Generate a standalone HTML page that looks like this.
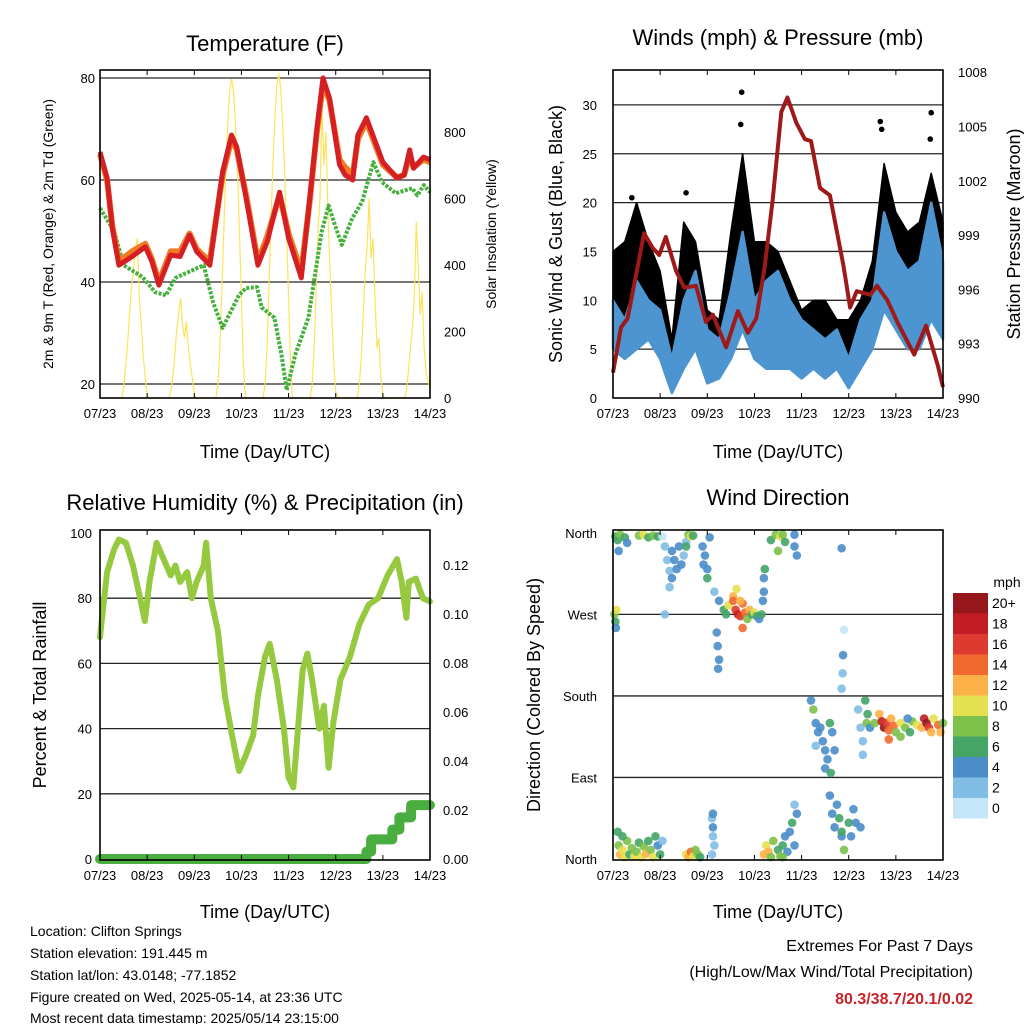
<!DOCTYPE html>
<html><head><meta charset="utf-8"><style>
html,body{margin:0;padding:0;background:#fff;}
svg{display:block;font-family:"Liberation Sans",sans-serif;}
</style></head><body>
<svg id="c" width="1024" height="1024" viewBox="0 0 1024 1024" xmlns="http://www.w3.org/2000/svg">
<rect width="1024" height="1024" fill="#fff"/>
<g id="marks"></g>
<g font-size="22" text-anchor="middle" fill="#000">
<text x="265" y="51">Temperature (F)</text>
<text x="778" y="45">Winds (mph) &amp; Pressure (mb)</text>
<text x="265" y="510">Relative Humidity (%) &amp; Precipitation (in)</text>
<text x="778" y="505">Wind Direction</text>
</g>
<g font-size="18" text-anchor="middle">
<text x="265" y="458">Time (Day/UTC)</text>
<text x="778" y="458">Time (Day/UTC)</text>
<text x="265" y="918">Time (Day/UTC)</text>
<text x="778" y="918">Time (Day/UTC)</text>
<text transform="translate(562,234) rotate(-90)">Sonic Wind &amp; Gust (Blue, Black)</text>
<text transform="translate(1020,234) rotate(-90)">Station Pressure (Maroon)</text>
<text transform="translate(46,695) rotate(-90)">Percent &amp; Total Rainfall</text>
<text transform="translate(540,695) rotate(-90)">Direction (Colored By Speed)</text>
</g>
<g font-size="14" text-anchor="middle">
<text transform="translate(53,234) rotate(-90)">2m &amp; 9m T (Red, Orange) &amp; 2m Td (Green)</text>
<text transform="translate(496,234) rotate(-90)">Solar Insolation (Yellow)</text>
</g>
<g font-size="14" fill="#000">
<text x="30" y="936">Location: Clifton Springs</text>
<text x="30" y="958">Station elevation: 191.445 m</text>
<text x="30" y="980">Station lat/lon: 43.0148; -77.1852</text>
<text x="30" y="1002">Figure created on Wed, 2025-05-14, at 23:36 UTC</text>
<text x="30" y="1023">Most recent data timestamp: 2025/05/14 23:15:00</text>
</g>
<g font-size="16" text-anchor="end">
<text x="973" y="951">Extremes For Past 7 Days</text>
<text x="973" y="977">(High/Low/Max Wind/Total Precipitation)</text>
<text x="973" y="1004" font-weight="bold" fill="#c8242a">80.3/38.7/20.1/0.02</text>
</g>
<text x="1007" y="587" font-size="14" text-anchor="middle">mph</text>
</svg>
<script>
// ---------- data ----------
const dayLabels = ["07/23","08/23","09/23","10/23","11/23","12/23","13/23","14/23"];
const tempT = [0,0.15,0.26,0.4,0.68,0.96,1.1,1.25,1.5,1.7,1.9,2.05,2.33,2.6,2.79,2.9,3.1,3.35,3.55,3.81,4.0,4.27,4.45,4.6,4.73,4.87,5.08,5.2,5.36,5.47,5.65,6.0,6.3,6.45,6.57,6.65,6.86,7.0];
const tempRed = [65.5,60.4,50.6,43.3,45,46.9,44,39.4,45.3,45,49.2,46,43.3,61.6,68.8,66.5,56.5,43.3,48,57.6,48.6,40.8,56.5,70,80,76,63,61,60,68.8,72.2,63.5,60.4,61,65.9,62.3,64.5,64];
const tempOrange = [65,60,51,44,46,47.5,44.5,40,46,46,49.5,46.5,44,61,68,66,57,44,49,57,49.5,42,56,69.5,79,75.5,64,62.5,61,68,71.5,63,60.5,61,65,62.5,64,63.5];
const dewT = [0,0.3,0.5,0.9,1.17,1.4,1.6,2.0,2.2,2.4,2.6,2.95,3.1,3.33,3.43,3.7,3.85,3.96,4.14,4.42,4.7,4.85,4.99,5.13,5.35,5.56,5.8,5.98,6.27,6.62,6.73,6.87,7.0];
const dewVals = [54.5,50,43.3,41,38,37.4,40.8,42.5,43.3,36,31,37.5,38.8,39,35,33,25.7,18.8,25.7,33,49.8,55,51,47.3,52.5,55.7,63.5,59.6,57.4,58.4,57,59,57.6];
const solarHourly = [
0,0,0,0,0,0,0,0,0,0,0,0,30,90,160,250,330,380,450,480,300,220,130,60,
10,0,0,0,0,0,0,0,0,0,0,0,20,60,120,200,250,300,220,180,230,150,100,60,
10,0,0,0,0,0,0,0,0,0,0,0,40,150,320,500,680,820,920,960,920,820,680,500,
300,100,0,0,0,0,0,0,0,0,0,0,40,150,330,520,700,840,940,975,930,820,680,500,
300,100,0,0,0,0,0,0,0,0,0,0,40,150,320,500,600,880,700,800,560,400,250,100,
20,0,0,0,0,0,0,0,0,0,0,0,40,120,250,380,450,600,420,480,300,150,180,60,
10,0,0,0,0,0,0,0,0,0,0,0,20,80,150,200,300,530,400,250,320,150,80,50,30];
const presT = [0,0.17,0.31,0.66,0.84,0.98,1.12,1.34,1.51,1.76,1.97,2.12,2.4,2.65,2.86,3.04,3.22,3.39,3.57,3.7,3.89,4.07,4.2,4.39,4.6,4.89,5.03,5.17,5.46,5.6,5.82,6.03,6.39,6.64,6.89,7.0];
const presVals = [991.4,993.9,994.4,999.1,998.3,997.9,998.9,997,996.1,996.2,994.2,994.6,992.8,994.8,993.6,994.4,997.3,1001,1005.8,1006.6,1005.2,1004.3,1004.2,1001.6,1001.2,997.3,995,995.9,995.7,996.2,995.4,994.2,992.4,994,991.8,990.6];
const windT = [0,0.25,0.5,0.75,1,1.25,1.5,1.75,2,2.25,2.5,2.75,3,3.25,3.5,3.75,4,4.25,4.5,4.75,5,5.25,5.5,5.75,6,6.25,6.5,6.75,7];
const windHi = [10,8,12,10,9,4,10,13,7,6,11,17,10,12,13,10,8,7,6,7,4,8,10,19,15,13,14,20,14];
const windLo = [5,4,5,6,4,0.5,3,5,1.5,2,4,7,4,3,3,3,2,3,2,3,1,3,5,9,7,5,5,8,6];
const gustHi = [15,16,20,16,13,6,18,16,9,8,17,25,16,16,15,12,9,10,10,8,8,10,14,24,19,17,18,23,18];
const peakGustT = [2.73,2.71,1.55,6.75,6.73,5.67,5.7,0.4];
const peakGustV = [31.3,28,21,29.2,26.5,28.3,27.5,20.5];
const rhT = [0,0.05,0.15,0.3,0.4,0.55,0.7,0.85,0.95,1.05,1.2,1.35,1.5,1.6,1.7,1.85,1.95,2.05,2.2,2.25,2.35,2.5,2.65,2.8,2.95,3.1,3.25,3.35,3.5,3.6,3.75,3.9,4.0,4.1,4.2,4.3,4.4,4.5,4.65,4.75,4.85,4.95,5.1,5.3,5.5,5.7,5.9,6.1,6.3,6.4,6.5,6.55,6.7,6.85,7.0];
const rhVals = [68,75,88,95,98,97,90,80,73,85,97,92,87,90,85,88,80,85,90,97,80,70,50,38,27,32,38,50,62,66,55,40,25,22,40,58,63,55,40,47,28,42,55,62,72,78,80,87,92,85,74,85,86,80,79];
const precT = [0,5.6,5.65,5.75,6.2,6.35,6.6,7.0];
const precVals = [0,0,0.003,0.008,0.012,0.017,0.022,0.022];
const dirT = [0.05,0.1,0.15,0.25,0.3,0.55,0.65,0.75,0.85,0.95,0.12,0.03,0.05,0.07,0.06,
1.05,1.1,1.15,1.2,1.2,1.25,1.3,1.35,1.4,1.45,1.5,1.55,1.1,1.25,1.6,1.65,1.7,1.55,
1.9,1.95,2.0,2.05,2.0,1.92,2.2,2.22,2.25,2.23,2.25,2.15,
2.35,2.45,2.55,2.6,2.65,2.7,2.75,2.8,2.85,2.9,2.95,3.0,2.62,2.55,2.7,3.05,2.75,3.1,3.15,2.4,
3.2,3.2,3.22,3.18,3.35,3.45,3.55,3.6,3.5,3.65,3.85,3.85,3.9,
4.85,4.9,4.88,4.87,4.85,
4.2,4.25,4.3,4.35,4.3,4.4,4.45,4.5,4.55,4.6,4.65,4.5,4.62,4.7,
4.6,4.65,4.7,4.75,4.8,4.85,4.9,4.85,5.0,5.05,5.1,5.15,5.25,
5.2,5.25,5.3,5.3,5.35,5.4,5.38,5.45,
5.55,5.65,5.7,5.75,5.8,5.85,5.9,5.95,6.0,6.1,6.2,6.3,6.35,6.45,6.55,6.6,6.65,6.7,6.75,6.8,6.9,6.95,7.0,6.25,5.85,6.1,
0.1,0.12,0.15,0.2,0.25,0.3,0.35,0.4,0.45,0.5,0.55,0.6,0.65,0.7,0.75,0.8,0.85,0.9,0.95,1.0,1.05,0.2,
1.55,1.6,1.65,1.7,1.75,1.8,1.85,
2.1,2.12,2.12,2.15,2.1,2.12,
3.2,3.25,3.3,3.35,3.4,3.5,3.55,3.6,3.65,3.7,3.75,3.8,3.85,3.9,3.85,3.6];
const dirDeg = [356,352,358,355,349,357,358,355,357,356,340,270,262,275,255,
356,345,330,318,300,340,330,320,345,325,335,350,270,310,358,356,357,345,
345,335,320,355,310,325,250,235,220,210,285,295,
275,280,290,275,270,268,282,272,265,275,270,272,298,285,285,268,255,265,270,270,
310,295,320,285,352,358,356,358,340,350,358,345,335,
343,253,225,205,188,
175,165,150,140,125,145,130,120,110,150,140,100,95,120,
70,50,35,60,45,25,10,30,40,25,55,40,35,
165,145,130,115,175,160,150,145,
150,160,152,145,150,142,155,147,140,150,145,140,152,148,145,155,150,145,140,155,148,140,150,155,132,135,
30,15,5,10,2,20,5,12,3,8,18,2,14,6,20,10,2,25,15,5,20,25,
5,2,8,3,10,5,2,
45,35,25,15,5,50,
5,15,8,2,20,10,3,15,25,8,30,40,15,50,60,2];
const dirSpd = [6,7,8,6,4,8,10,7,9,6,4,8,6,10,4,
1,2,2,2,2,4,4,4,4,4,3,3,2,4,8,10,6,6,
4,4,4,4,6,4,4,4,4,4,4,2,
6,10,12,16,18,16,14,14,8,12,6,10,10,14,12,6,14,4,6,6,
4,4,6,4,6,8,10,8,8,6,4,4,4,
4,1,4,2,3,
4,8,4,4,2,4,4,4,4,6,4,4,6,4,
4,4,4,4,6,4,8,6,6,4,4,4,4,
2,2,2,2,6,6,8,4,
8,12,18,20,16,14,12,14,8,10,8,6,8,10,12,18,20,16,12,10,14,12,8,4,14,8,
6,8,12,10,10,8,6,8,10,8,6,10,8,12,6,8,10,6,4,6,2,6,
10,12,14,10,8,8,6,
2,4,2,2,2,4,
12,10,12,8,8,6,8,6,4,4,4,6,4,4,2,8];
const cbLabels = ["0","2","4","6","8","10","12","14","16","18","20+"];
const cbColors = ["#c4e6f8","#82bde6","#4a8dc9","#44a567","#7cc14a","#e5e04f","#fbb148","#f2692f","#de3b30","#c21d25","#95171c"];

// ---------- helpers ----------
const NS = "http://www.w3.org/2000/svg";
const root = document.getElementById("marks");
function mk(tag, attrs, parent) {
  const el = document.createElementNS(NS, tag);
  for (const k in attrs) el.setAttribute(k, attrs[k]);
  (parent || root).appendChild(el);
  return el;
}
const DAY = 330 / 7;
function xAt(x0) { return t => x0 + t * DAY; }
const x1 = xAt(100), x2 = xAt(613);
const yTemp = v => 384 - (v - 20) * 5.1;
const ySol = v => 398 - v * 0.3325;
const yWind = v => 398 - v * 9.77;
const yPres = p => 398 - (p - 990) * 18.1;
const yRH = v => 859 - v * 3.26;
const yPrec = v => 859 - v * 2450;
const yDir = d => 859 - d * 0.906;

function poly(ts, vs, xf, yf) { return ts.map((t, i) => xf(t).toFixed(1) + "," + yf(vs[i]).toFixed(1)).join(" "); }

// ---------- panel frames, grids, ticks ----------
const panels = [
  {name:"temperature", x:100, y:70, y2:398},
  {name:"winds", x:613, y:70, y2:398},
  {name:"humidity", x:100, y:530, y2:860},
  {name:"direction", x:613, y:530, y2:860}
];
function grid(name, ys, x0) {
  ys.forEach(y => {
    const g = mk("line", {x1:x0, x2:x0+330, y1:y, y2:y, stroke:"#000", "stroke-width":1.3, opacity:0.85});
    
    
  });
}
grid("temp", [20,40,60,80].map(yTemp), 100);
grid("wind", [5,10,15,20,25,30].map(yWind), 613);
grid("rh", [20,40,60,80].map(yRH), 100);
grid("dir", [90,180,270].map(yDir), 613);

function label(txt, x, y, anchor, name, size) {
  const t = mk("text", {x:x, y:y, "text-anchor":anchor, "font-size":size||13});
  t.textContent = txt;
  
  
  return t;
}

// ---------- temperature panel ----------
const solPts = solarHourly.map((v, i) => x1(i / 24).toFixed(1) + "," + ySol(v).toFixed(1)).join(" ");
const sol = mk("polyline", {points: solPts, fill:"none", stroke:"#fde35a", "stroke-width":1.2});


const dew = mk("polyline", {points: poly(dewT, dewVals, x1, yTemp), fill:"none", stroke:"#46b03e", "stroke-width":4, "stroke-dasharray":"3 1.5", "stroke-linejoin":"round"});


const orn = mk("polyline", {points: poly(tempT, tempOrange, x1, yTemp), fill:"none", stroke:"#f27a22", "stroke-width":6, "stroke-linejoin":"round"});


const red = mk("polyline", {points: poly(tempT, tempRed, x1, yTemp), fill:"none", stroke:"#d42024", "stroke-width":5, "stroke-linejoin":"round"});


[20,40,60,80].forEach(v => label(String(v), 95, yTemp(v) + 5, "end", "temp-y-tick-label"));
[0,200,400,600,800].forEach(v => label(String(v), 444, ySol(v) + 5, "start", "solar-y-tick-label"));

// ---------- winds panel ----------
const gustPoly = windT.map((t,i)=>x2(t).toFixed(1)+","+yWind(gustHi[i]).toFixed(1)).concat(windT.slice().reverse().map((t,j)=>{const i=windT.length-1-j;return x2(t).toFixed(1)+","+yWind(windLo[i]).toFixed(1);})).join(" ");
const gust = mk("polygon", {points:gustPoly, fill:"#000", stroke:"#000", "stroke-width":1.5, "stroke-linejoin":"round"});


const windPoly = windT.map((t,i)=>x2(t).toFixed(1)+","+yWind(windHi[i]).toFixed(1)).concat(windT.slice().reverse().map((t,j)=>{const i=windT.length-1-j;return x2(t).toFixed(1)+","+yWind(windLo[i]).toFixed(1);})).join(" ");
const wind = mk("polygon", {points:windPoly, fill:"#4d95d1", stroke:"#4d95d1", "stroke-width":2.5, "stroke-linejoin":"round"});


peakGustT.forEach((t,i) => {
  const c = mk("circle", {cx:x2(t), cy:yWind(peakGustV[i]), r:2.8, fill:"#000"});
  
  
});
const pres = mk("polyline", {points: poly(presT, presVals, x2, yPres), fill:"none", stroke:"#9e1a1a", "stroke-width":4, "stroke-linejoin":"round"});


[0,5,10,15,20,25,30].forEach(v => label(String(v), 597, yWind(v) + 5, "end", "wind-y-tick-label"));
[990,993,996,999,1002,1005,1008].forEach(v => label(String(v), 958, yPres(v) + 5, "start", "pressure-y-tick-label"));

// ---------- humidity panel ----------
const rh = mk("polyline", {points: poly(rhT, rhVals, x1, yRH), fill:"none", stroke:"#96c93f", "stroke-width":6, "stroke-linejoin":"round", "stroke-linecap":"round"});


const stepPts = [];
precT.forEach((t,i) => { if (i>0) stepPts.push(x1(t).toFixed(1)+","+yPrec(precVals[i-1]).toFixed(1)); stepPts.push(x1(t).toFixed(1)+","+yPrec(precVals[i]).toFixed(1)); });
const prec = mk("polyline", {points: stepPts.join(" "), fill:"none", stroke:"#4aad3f", "stroke-width":10, "stroke-linejoin":"round", "stroke-linecap":"round"});


[0,20,40,60,80,100].forEach(v => label(String(v), 92, yRH(v) + 5, "end", "rh-y-tick-label"));
[0,0.02,0.04,0.06,0.08,0.10,0.12].forEach(v => label(v.toFixed(2), 443, yPrec(v) + 5, "start", "precip-y-tick-label"));

// ---------- direction panel ----------
dirT.forEach((t,i) => {
  const bin = Math.min(10, Math.floor(dirSpd[i] / 2));
  const c = mk("circle", {cx:x2(t), cy:yDir(dirDeg[i]), r:4.3, fill:cbColors[bin], opacity:0.9});
  
  
});
[["North",0],["East",90],["South",180],["West",270],["North",360]].forEach(d => label(d[0], 597, yDir(d[1]) + 5, "end", "dir-y-tick-label"));
cbColors.forEach((col, i) => {
  const top = 593 + (10 - i) * 20.5;
  const r = mk("rect", {x:953, y:top, width:35, height:20.5, fill:col});
  
  
  label(cbLabels[i], 992, top + 15, "start", "colorbar-label", 14);
});

// ---------- frames and x ticks ----------
panels.forEach(p => {
  const f = mk("rect", {x:p.x, y:p.y, width:330, height:p.y2-p.y, fill:"none", stroke:"#000", "stroke-width":1.6});
  
  
  for (let d = 0; d <= 7; d++) {
    const x = p.x + d * DAY;
    const tk = mk("line", {x1:x, x2:x, y1:p.y2, y2:p.y2-5, stroke:"#000", "stroke-width":1});
    
    
    const tk2 = mk("line", {x1:x, x2:x, y1:p.y, y2:p.y+5, stroke:"#000", "stroke-width":1});
    
    
    label(dayLabels[d], x, p.y2 + 20, "middle", p.name + "-x-tick-label");
  }
});
</script>
</body></html>
